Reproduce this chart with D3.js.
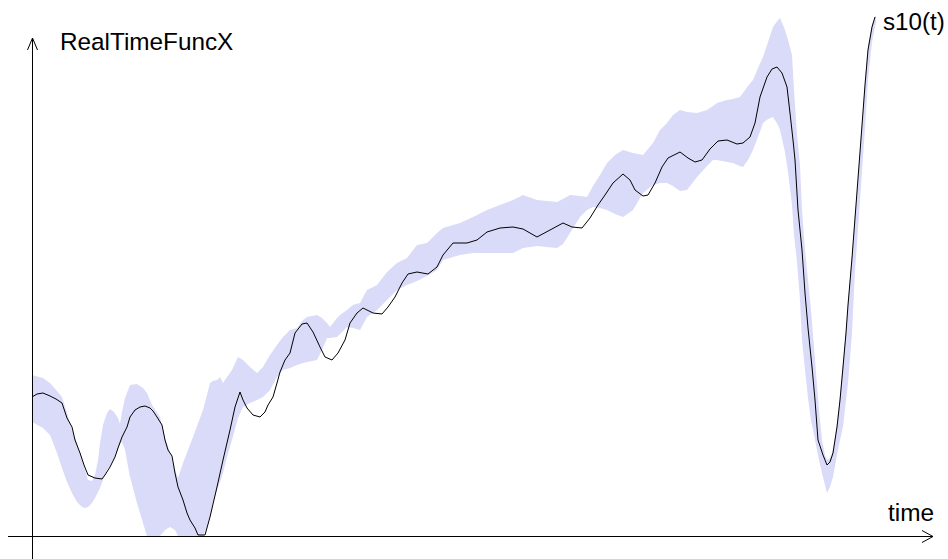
<!DOCTYPE html>
<html>
<head>
<meta charset="utf-8">
<script src="https://cdn.jsdelivr.net/npm/d3@7/dist/d3.min.js"></script>
<style>
  html, body { margin: 0; padding: 0; background: #fff; }
  svg { display: block; }
  text { font-family: "Liberation Sans", Arial, sans-serif; fill: #000; }
</style>
</head>
<body>
<script>
// Signal s10(t): sampled trace
const time = [0.0,0.5,1.1,1.8,2.4,3.0,3.5,4.0,4.3,4.8,5.2,5.6,6.3,7.0,7.3,7.8,8.3,8.6,9.0,9.5,9.8,10.3,10.8,11.3,11.8,12.1,12.5,13.0,13.3,13.6,14.0,14.3,14.6,15.1,15.5,15.8,16.3,16.6,17.3,17.8,18.5,19.1,19.8,20.3,20.8,21.1,21.5,22.1,22.8,23.3,23.6,24.1,24.5,24.8,25.3,25.8,26.3,27.0,27.5,28.1,28.8,29.3,30.0,30.6,31.3,31.8,32.5,33.1,34.1,35.0,35.6,36.3,37.0,37.6,38.5,39.6,40.5,41.1,42.1,43.5,44.5,45.5,46.8,48.1,49.1,50.5,51.8,53.1,54.0,55.0,55.8,56.6,57.3,58.1,59.1,59.8,60.3,61.1,61.6,62.3,63.0,63.6,64.8,65.6,66.3,67.0,67.8,68.6,69.5,70.5,71.1,71.8,72.3,72.8,73.5,74.0,74.5,75.0,75.5,75.8,76.1,76.3,76.6,77.0,77.3,77.6,78.0,78.3,78.6,79.1,79.5,79.8,80.1,80.5,80.8,81.1,81.4,81.6,82.0,82.4,82.8,83.3,83.6,84.0,84.3];
const value = [13.9,14.2,14.3,14.0,13.7,13.3,11.8,10.9,9.6,8.3,7.1,6.1,5.8,5.7,6.1,6.9,7.9,8.8,9.9,10.9,11.9,12.6,12.9,13.0,12.8,12.5,11.9,11.1,9.6,8.6,8.0,6.3,4.9,3.6,2.3,1.6,0.8,0.1,0.1,1.9,4.9,7.6,10.6,12.9,14.4,13.6,12.8,12.1,11.9,12.4,13.1,13.9,15.3,16.4,17.6,18.3,20.3,21.2,21.3,20.4,18.9,17.9,17.6,18.3,19.6,21.3,22.3,22.8,22.3,22.2,22.9,23.9,25.3,26.2,26.4,26.2,26.9,28.1,29.3,29.3,29.6,30.4,30.8,30.9,30.7,29.9,30.6,31.3,30.9,30.8,31.8,33.1,34.1,35.3,36.2,35.6,34.6,34.0,34.1,35.3,36.9,37.8,38.4,37.8,37.4,37.6,38.7,39.5,39.6,39.2,39.3,39.9,41.3,43.9,45.9,46.7,46.9,46.3,44.9,42.3,39.6,37.6,32.6,28.6,24.3,20.8,16.9,13.6,9.6,8.1,7.1,7.4,8.3,10.9,13.6,16.9,20.3,23.1,27.8,33.1,38.4,45.1,48.6,50.9,51.9];

// Spread envelope around the signal
const bandTime = [0.0,1.1,1.8,2.5,3.0,3.5,4.0,4.5,5.0,5.3,5.6,6.0,6.3,6.6,6.8,7.1,7.5,7.8,8.2,8.6,8.8,9.0,9.3,9.8,10.5,11.1,11.5,12.0,12.8,13.3,13.8,14.3,14.6,15.1,16.1,17.1,17.5,17.8,18.1,18.5,18.8,19.1,19.5,20.0,20.6,21.1,21.8,22.5,23.1,23.8,24.5,25.1,25.8,26.5,27.1,27.5,28.5,29.0,29.5,29.8,30.5,30.8,31.5,32.1,32.8,33.5,34.5,35.5,36.5,37.5,38.5,39.5,40.5,41.1,42.1,42.8,44.1,45.5,46.8,48.1,49.1,50.5,51.5,52.5,53.1,53.8,54.8,55.5,56.1,56.8,57.5,58.3,59.1,60.1,61.1,62.1,62.8,63.5,64.1,64.8,65.5,66.5,67.5,68.1,68.5,69.5,70.1,70.8,71.1,71.6,72.1,72.6,73.1,73.6,74.1,74.6,74.8,75.3,75.6,76.0,76.2,76.5,76.8,77.0,77.3,77.6,77.9,78.3,78.7,79.0,79.3,79.5,79.8,80.1,80.5,80.8,81.1,81.4,81.6,82.0,82.3,82.6,82.8,83.3,83.6,84.0,84.4];
const bandHigh = [16.1,15.8,15.3,14.5,13.9,12.3,10.6,9.3,7.6,6.6,5.6,5.5,6.1,7.6,9.3,11.1,12.3,12.7,12.4,11.8,11.2,12.4,13.8,15.1,15.2,14.8,14.3,13.1,11.9,9.8,8.4,6.6,5.8,7.3,9.9,12.6,14.1,15.3,15.5,15.6,15.9,15.3,15.9,16.6,17.9,17.6,16.9,16.3,16.9,18.1,19.1,19.9,20.6,20.8,21.6,21.9,22.1,21.8,21.3,20.9,21.8,22.1,22.6,23.1,23.3,24.6,25.1,26.4,27.3,27.8,29.1,29.3,30.3,30.8,31.1,31.3,31.9,32.6,33.1,33.6,34.1,33.6,33.5,33.4,33.7,34.1,34.0,33.9,35.0,36.1,37.3,38.1,38.6,38.3,38.1,39.3,40.6,41.3,42.1,42.6,42.4,42.3,42.6,43.0,43.3,43.6,43.7,43.9,44.3,45.0,45.6,46.8,47.9,49.4,50.9,51.6,51.8,50.6,49.6,48.1,44.6,40.1,37.1,32.6,28.6,25.6,22.6,17.6,12.6,9.6,8.1,7.6,7.8,8.6,11.3,14.0,17.4,20.8,23.3,28.1,32.4,35.6,38.6,45.6,49.1,51.2,52.1];
const bandLow = [11.4,10.8,10.1,8.3,6.8,5.4,4.3,3.4,2.9,2.8,2.9,3.3,3.8,4.4,4.8,5.6,6.6,7.0,7.7,8.7,9.2,9.4,8.6,5.9,3.3,1.3,0.0,0.0,0.0,0.6,0.9,0.6,0.0,0.0,0.0,0.0,0.9,1.9,3.3,4.6,5.4,6.3,7.9,9.6,11.8,12.9,13.3,13.6,13.9,14.6,15.9,16.6,16.8,17.1,17.3,17.4,17.6,18.6,19.8,19.8,19.9,20.2,20.9,20.8,20.6,21.9,22.6,23.6,24.6,25.1,25.5,26.0,26.6,27.6,27.9,28.1,28.3,28.3,28.3,28.3,28.8,29.0,28.9,28.8,29.2,30.3,31.9,32.6,32.9,32.8,32.6,32.2,31.9,32.6,34.3,35.1,35.3,35.3,35.0,34.5,34.6,35.9,37.0,37.6,37.6,37.4,37.3,37.0,36.9,37.6,38.6,39.9,41.3,41.7,41.9,41.1,40.6,38.4,36.4,33.1,30.1,27.4,23.6,19.6,16.6,13.8,11.6,9.6,7.6,6.3,5.1,4.3,4.9,5.9,8.1,9.6,10.9,13.6,15.3,20.3,26.6,30.6,33.6,40.8,45.6,49.4,51.4];

// Axis and series labels
const yLabel = "RealTimeFuncX";
const xLabel = "time";
const seriesLabel = "s10(t)";

const W = 948, H = 559;
const svg = d3.select("body").append("svg")
  .attr("width", W).attr("height", H)
  .attr("viewBox", `0 0 ${W} ${H}`);

const x = d3.scaleLinear().domain([0, 90]).range([32, 932]);
const y = d3.scaleLinear().domain([0, 52]).range([536, 16]);

const bandRows = bandTime.map((t, i) => ({ t, lo: bandLow[i], hi: bandHigh[i] }));
const lineRows = time.map((t, i) => ({ t, v: value[i] }));

// envelope
svg.append("path")
  .datum(bandRows)
  .attr("fill", "#dadaf9")
  .attr("stroke", "none")
  .attr("d", d3.area()
    .x(d => x(d.t))
    .y0(d => y(d.lo))
    .y1(d => y(d.hi))
    .curve(d3.curveLinear));

// axes with open arrow heads
const x0 = Math.round(x(0)) + 0.5;
const y0 = Math.round(y(0)) + 0.5;
const axes = svg.append("g").attr("stroke", "#000").attr("stroke-width", 1).attr("fill", "none");
axes.append("line").attr("x1", 8).attr("x2", 933).attr("y1", y0).attr("y2", y0);
axes.append("line").attr("x1", x0).attr("x2", x0).attr("y1", 38).attr("y2", H);
axes.append("path").attr("d", `M${x0 - 5},${50} L${x0},${38} L${x0 + 5},${50}`);
axes.append("path").attr("d", `M${922},${y0 - 6} L${933},${y0} L${922},${y0 + 6}`);

// signal trace
svg.append("path")
  .datum(lineRows)
  .attr("fill", "none")
  .attr("stroke", "#000")
  .attr("stroke-width", 1)
  .attr("stroke-linejoin", "round")
  .attr("d", d3.line().x(d => x(d.t)).y(d => y(d.v)));

// labels
svg.append("text").attr("x", 60).attr("y", 50).attr("font-size", 24.3).text(yLabel);
svg.append("text").attr("x", 883).attr("y", 30).attr("font-size", 24.2).text(seriesLabel);
svg.append("text").attr("x", 888).attr("y", 521).attr("font-size", 24.4).text(xLabel);
</script>
</body>
</html>
